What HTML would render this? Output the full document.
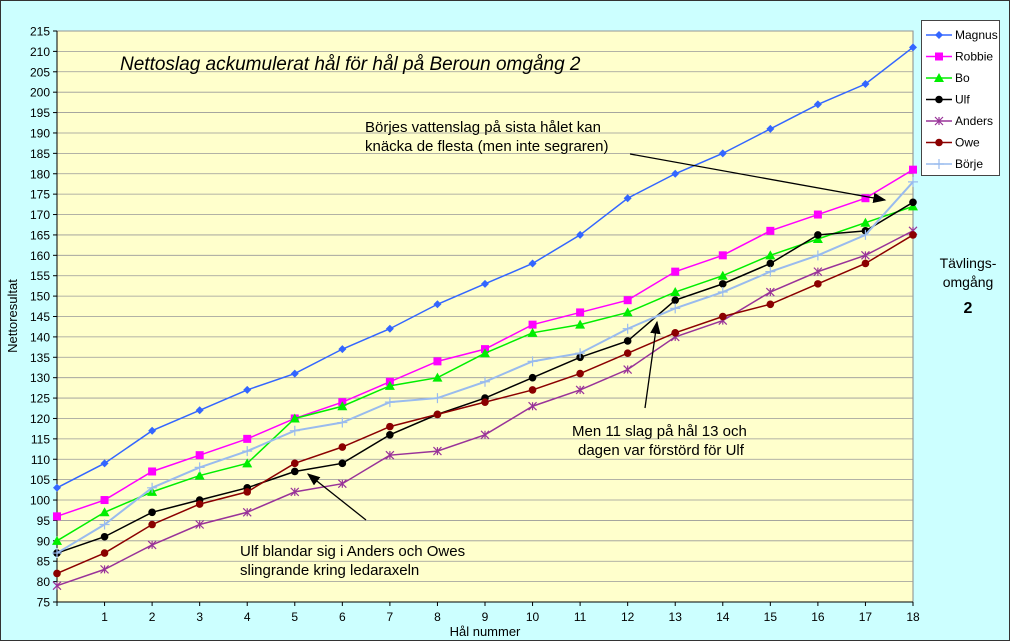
<!DOCTYPE html>
<html><head><meta charset="utf-8"><style>
body{margin:0;background:#CCFFFF;}
svg{display:block;font-family:"Liberation Sans",sans-serif;}
</style></head><body>
<svg id="s" width="1010" height="641" xmlns="http://www.w3.org/2000/svg">
<rect x="0.5" y="0.5" width="1009" height="640" fill="#CCFFFF" stroke="#333" stroke-width="1"/>
<rect x="57" y="31" width="856" height="571" fill="#FFFFCC" stroke="#888"/>
<g id="grid"></g>
<g id="series"></g>
<text x="120" y="70" font-size="19" font-style="italic">Nettoslag ackumulerat hål för hål på Beroun omgång 2</text>
<text x="365" y="132" font-size="15">Börjes vattenslag på sista hålet kan</text>
<text x="365" y="151" font-size="15">knäcka de flesta (men inte segraren)</text>
<text x="572" y="436" font-size="15">Men 11 slag på hål 13 och</text>
<text x="578" y="455" font-size="15">dagen var förstörd för Ulf</text>
<text x="240" y="556" font-size="15">Ulf blandar sig i Anders och Owes</text>
<text x="240" y="575" font-size="15">slingrande kring ledaraxeln</text>
<text x="968" y="268" font-size="14" text-anchor="middle">Tävlings-</text>
<text x="968" y="287" font-size="14" text-anchor="middle">omgång</text>
<text x="968" y="313" font-size="16" font-weight="bold" text-anchor="middle">2</text>
<text x="485" y="636" font-size="13" text-anchor="middle">Hål nummer</text>
<text transform="translate(17,316) rotate(-90)" font-size="13" text-anchor="middle">Nettoresultat</text>
<defs><marker id="ar" markerWidth="10" markerHeight="8" refX="9" refY="4" orient="auto"><path d="M0,0L10,4L0,8z" fill="#000"/></marker></defs>
<line x1="630" y1="154" x2="885" y2="200" stroke="#000" stroke-width="1.3" marker-end="url(#ar)"/>
<line x1="645" y1="408" x2="657" y2="322" stroke="#000" stroke-width="1.3" marker-end="url(#ar)"/>
<line x1="366" y1="520" x2="308" y2="474" stroke="#000" stroke-width="1.3" marker-end="url(#ar)"/>
<rect x="921.5" y="20.5" width="78" height="155" fill="#fff" stroke="#444"/>
<g id="leg"></g>
</svg>
<script>
const X=v=>57+v*856/18, Y=v=>602-(v-75)*571/140;
let g='',s='',l='';
for(let v=75;v<=215;v+=5){const y=Y(v);g+=`<line x1="57" y1="${y}" x2="913" y2="${y}" stroke="#999" stroke-width="0.8"/><line x1="53" y1="${y}" x2="57" y2="${y}" stroke="#000"/><text x="50" y="${y+4.5}" font-size="12" text-anchor="end">${v}</text>`;}
for(let i=0;i<=18;i++){const x=X(i);g+=`<line x1="${x}" y1="602" x2="${x}" y2="606" stroke="#000"/>`;if(i>0)g+=`<text x="${x}" y="621" font-size="12" text-anchor="middle">${i}</text>`;}
g+=`<line x1="57" y1="31" x2="57" y2="602" stroke="#000"/><line x1="57" y1="602" x2="913" y2="602" stroke="#000"/>`;
const D=[
["Magnus","#3366FF","d",[103,109,117,122,127,131,137,142,148,153,158,165,174,180,185,191,197,202,211]],
["Robbie","#FF00FF","s",[96,100,107,111,115,120,124,129,134,137,143,146,149,156,160,166,170,174,181]],
["Bo","#00EE00","t",[90,97,102,106,109,120,123,128,130,136,141,143,146,151,155,160,164,168,172]],
["Ulf","#000000","c",[87,91,97,100,103,107,109,116,121,125,130,135,139,149,153,158,165,166,173]],
["Anders","#993399","x",[79,83,89,94,97,102,104,111,112,116,123,127,132,140,144,151,156,160,166]],
["Owe","#8B0000","c",[82,87,94,99,102,109,113,118,121,124,127,131,136,141,145,148,153,158,165]],
["Börje","#99BBEE","p",[87,94,103,108,112,117,119,124,125,129,134,136,142,147,151,156,160,165,178]]];
function mk(t,x,y,c){
 if(t=="d")return `<path d="M${x},${y-4}L${x+4},${y}L${x},${y+4}L${x-4},${y}z" fill="${c}"/>`;
 if(t=="s")return `<rect x="${x-4}" y="${y-4}" width="8" height="8" fill="${c}"/>`;
 if(t=="t")return `<path d="M${x},${y-5}L${x+5},${y+4}L${x-5},${y+4}z" fill="${c}"/>`;
 if(t=="c")return `<circle cx="${x}" cy="${y}" r="3.8" fill="${c}"/>`;
 if(t=="x")return `<path d="M${x-4},${y-4}L${x+4},${y+4}M${x-4},${y+4}L${x+4},${y-4}M${x},${y-4}V${y+4}" stroke="${c}" stroke-width="1.2"/>`;
 return `<path d="M${x-5},${y}H${x+5}M${x},${y-5}V${y+5}" stroke="${c}" stroke-width="1.2"/>`;
}
D.forEach((d,k)=>{
 const pts=d[3].map((v,i)=>X(i)+","+Y(v)).join(" ");
 s+=`<polyline points="${pts}" fill="none" stroke="${d[1]}" stroke-width="${d[0]=='Börje'?2:1.5}"/>`;
 d[3].forEach((v,i)=>s+=mk(d[2],X(i),Y(v),d[1]));
 const y=35+k*21.5;
 l+=`<line x1="926" y1="${y}" x2="952" y2="${y}" stroke="${d[1]}" stroke-width="1.5"/>`+mk(d[2],939,y,d[1])+`<text x="955" y="${y+4}" font-size="12">${d[0]}</text>`;
});
document.getElementById('grid').innerHTML=g;
document.getElementById('series').innerHTML=s;
document.getElementById('leg').innerHTML=l;
</script>
</body></html>
